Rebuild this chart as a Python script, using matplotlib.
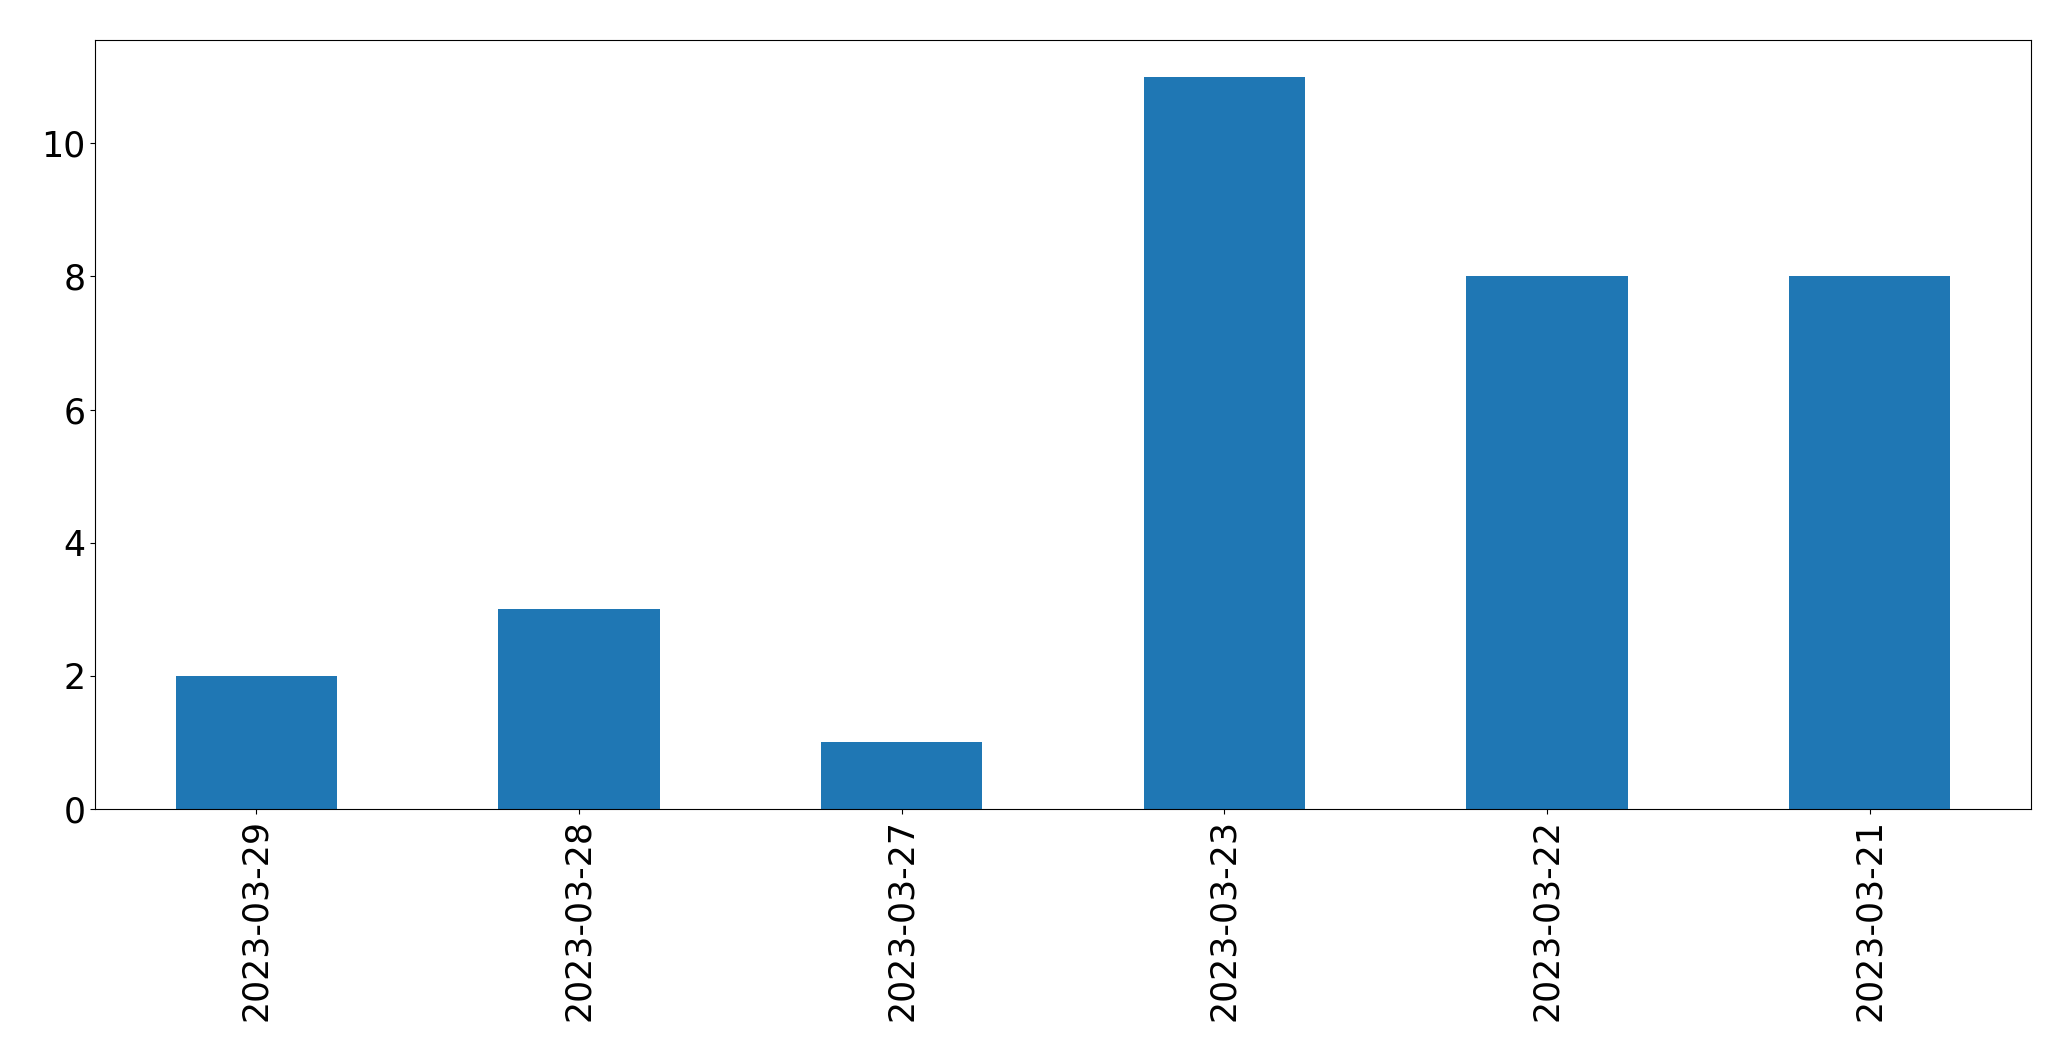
import matplotlib
matplotlib.use("Agg")
import numpy as np
import matplotlib.pyplot as plt

dates = ["2023-03-29", "2023-03-28", "2023-03-27", "2023-03-23", "2023-03-22", "2023-03-21"]
counts = [2, 3, 1, 11, 8, 8]

fig = plt.figure(figsize=(20.71, 10.61), dpi=100)
ax = fig.add_axes([0.0459, 0.2375, 0.9348, 0.7248])

x_pos = np.arange(len(dates))
ax.bar(x_pos, counts, width=0.5, color='#1f77b4')
ax.set_xlim(-0.5, len(dates) - 0.5)
ax.set_xticks(x_pos)
ax.set_xticklabels(dates, rotation=90)
ax.tick_params(labelsize=25)

fig.savefig("out.png", dpi=100)
